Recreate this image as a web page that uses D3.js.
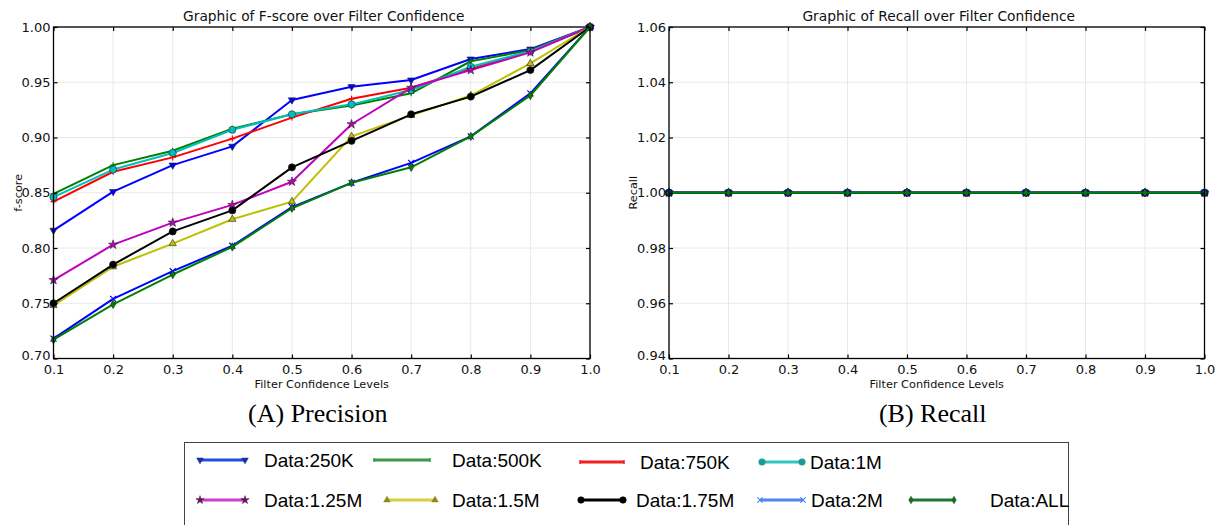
<!DOCTYPE html>
<html><head><meta charset="utf-8">
<script src="https://cdn.jsdelivr.net/npm/d3@7"></script>
<style>
html,body{margin:0;padding:0;background:#fff;}
svg{display:block;}
</style></head>
<body><svg id="c" width="1222" height="525"></svg>
<script>
// ---------- data ----------
const levels = [0.1,0.2,0.3,0.4,0.5,0.6,0.7,0.8,0.9,1.0];
const seriesNames = ["Data:250K","Data:500K","Data:750K","Data:1M","Data:1.25M","Data:1.5M","Data:1.75M","Data:2M","Data:ALL"];
const fs250K = [0.816,0.851,0.875,0.892,0.934,0.946,0.952,0.971,0.980,1.000];
const fs500K = [0.849,0.875,0.888,0.908,0.921,0.929,0.940,0.969,0.979,1.000];
const fs750K = [0.842,0.869,0.882,0.899,0.918,0.935,0.945,0.962,0.978,1.000];
const fs1M   = [0.846,0.871,0.886,0.907,0.921,0.930,0.943,0.964,0.978,1.000];
const fs125M = [0.771,0.803,0.823,0.839,0.860,0.912,0.945,0.961,0.977,1.000];
const fs15M  = [0.748,0.783,0.804,0.826,0.842,0.901,0.920,0.938,0.967,1.000];
const fs175M = [0.750,0.785,0.815,0.834,0.873,0.897,0.921,0.937,0.961,1.000];
const fs2M   = [0.718,0.754,0.779,0.802,0.837,0.859,0.877,0.901,0.940,1.000];
const fsALL  = [0.717,0.749,0.776,0.801,0.836,0.859,0.873,0.901,0.938,1.000];
const rc250K = [1.0,1.0,1.0,1.0,1.0,1.0,1.0,1.0,1.0,1.0];
const rc500K = [1.0,1.0,1.0,1.0,1.0,1.0,1.0,1.0,1.0,1.0];
const rc750K = [1.0,1.0,1.0,1.0,1.0,1.0,1.0,1.0,1.0,1.0];
const rc1M   = [1.0,1.0,1.0,1.0,1.0,1.0,1.0,1.0,1.0,1.0];
const rc125M = [1.0,1.0,1.0,1.0,1.0,1.0,1.0,1.0,1.0,1.0];
const rc15M  = [1.0,1.0,1.0,1.0,1.0,1.0,1.0,1.0,1.0,1.0];
const rc175M = [1.0,1.0,1.0,1.0,1.0,1.0,1.0,1.0,1.0,1.0];
const rc2M   = [1.0,1.0,1.0,1.0,1.0,1.0,1.0,1.0,1.0,1.0];
const rcALL  = [1.0,1.0,1.0,1.0,1.0,1.0,1.0,1.0,1.0,1.0];
const fTicks = [0.70,0.75,0.80,0.85,0.90,0.95,1.00];
const rTicks = [0.94,0.96,0.98,1.00,1.02,1.04,1.06];
const xTicks = [0.1,0.2,0.3,0.4,0.5,0.6,0.7,0.8,0.9,1.0];

// ---------- styles ----------
const lineColors  = ["#0000ff","#008000","#ff0000","#00bfbf","#bf00bf","#bfbf00","#000000","#0000ff","#008000"];
const markerFill  = ["#0000ff","#008000","#ff0000","#00bfbf","#bf00bf","#bfbf00","#000000","#0000ff","#008000"];
const markerKind  = ["tridown","plus","plus","circle","star","triup","circle","x","diamond"];
const legColors   = ["#1f4fd8","#3a9a4a","#ee2020","#30c4c4","#cc3fcc","#d6d040","#000000","#4f86f0","#1b7a30"];
const legMarkFill = ["#1a2f9a","#3a9a4a","#ee2020","#1a9a9a","#5a1a5a","#8a8a20","#000000","#4f86f0","#1b6a2a"];

const fsData = [fs250K,fs500K,fs750K,fs1M,fs125M,fs15M,fs175M,fs2M,fsALL];
const rcData = [rc250K,rc500K,rc750K,rc1M,rc125M,rc15M,rc175M,rc2M,rcALL];

const svg = d3.select("#c");
const sans = "DejaVu Sans, sans-serif";

function marker(g, kind, cx, cy, fill, s, edge){
  s = s || 1;
  edge = edge || "#222";
  if (kind==="circle"){
    g.append("circle").attr("cx",cx).attr("cy",cy).attr("r",3.6*s).attr("fill",fill).attr("stroke",edge).attr("stroke-width",0.6);
  } else if (kind==="tridown" || kind==="triup"){
    const r=4.2*s;
    g.append("path").attr("d",d3.symbol(d3.symbolTriangle, r*r*1.3)()).attr("fill",fill).attr("stroke",edge).attr("stroke-width",0.6)
      .attr("transform",`translate(${cx},${cy})${kind==="tridown"?" rotate(180)":""}`);
  } else if (kind==="star"){
    g.append("path").attr("d",d3.symbol(d3.symbolStar, 26*s*s)()).attr("fill",fill).attr("stroke",edge).attr("stroke-width",0.6)
      .attr("transform",`translate(${cx},${cy})`);
  } else if (kind==="diamond"){
    const r=4.2*s;
    g.append("path").attr("d",`M0,${-r}L${r*0.6},0L0,${r}L${-r*0.6},0Z`).attr("fill",fill).attr("stroke",edge).attr("stroke-width",0.6)
      .attr("transform",`translate(${cx},${cy})`);
  } else if (kind==="plus"){
    const r=3*s;
    g.append("path").attr("d",`M${-r},0H${r}M0,${-r}V${r}`).attr("stroke",fill).attr("stroke-width",1.2).attr("fill","none")
      .attr("transform",`translate(${cx},${cy})`);
  } else if (kind==="x"){
    const r=3*s;
    g.append("path").attr("d",`M${-r},${-r}L${r},${r}M${-r},${r}L${r},${-r}`).attr("stroke",fill).attr("stroke-width",1.2).attr("fill","none")
      .attr("transform",`translate(${cx},${cy})`);
  }
}

function panel(opts){
  const {x0,x1,y0,y1,yDomain,yTicks,yFmt,title,ylabel,data,caption} = opts;
  const x = d3.scaleLinear().domain([0.1,1.0]).range([x0,x1]);
  const y = d3.scaleLinear().domain(yDomain).range([y1,y0]);
  const g = svg.append("g");

  // grid
  g.append("g").selectAll("line").data(xTicks).join("line")
    .attr("x1",d=>x(d)).attr("x2",d=>x(d)).attr("y1",y0).attr("y2",y1)
    .attr("stroke","#e8e8e8").attr("stroke-width",1);
  g.append("g").selectAll("line").data(yTicks).join("line")
    .attr("x1",x0).attr("x2",x1).attr("y1",d=>y(d)).attr("y2",d=>y(d))
    .attr("stroke","#e8e8e8").attr("stroke-width",1);

  // series
  const line = d3.line().x((d,i)=>x(levels[i])).y(d=>y(d));
  data.forEach((arr,k)=>{
    g.append("path").datum(arr).attr("d",line).attr("fill","none")
      .attr("stroke",lineColors[k]).attr("stroke-width",2).attr("stroke-linejoin","round");
    arr.forEach((v,i)=>marker(g, markerKind[k], x(levels[i]), y(v), markerFill[k], 1));
  });

  // axes
  const ax = (gen, tr, labels) => {
    const a = g.append("g").attr("transform",tr).call(gen);
    a.select(".domain").remove();
    a.selectAll(".tick line").attr("stroke","#000").attr("stroke-width",1.2);
    a.selectAll(".tick text").attr("font-family",sans).attr("font-size",13).attr("fill","#111");
    if(!labels) a.selectAll(".tick text").remove();
    return a;
  };
  ax(d3.axisBottom(x).tickValues(xTicks).tickSizeInner(-4).tickSizeOuter(0).tickPadding(6).tickFormat(d3.format(".1f")), `translate(0,${y1})`, true);
  ax(d3.axisTop(x).tickValues(xTicks).tickSizeInner(-4).tickSizeOuter(0), `translate(0,${y0})`, false);
  const ya = ax(d3.axisLeft(y).tickValues(yTicks).tickSizeInner(-4).tickSizeOuter(0).tickPadding(3).tickFormat(d3.format(yFmt)), `translate(${x0},0)`, true);
  ya.selectAll(".tick text").filter(d=>d===yDomain[0]).attr("dy","0.1em");
  ax(d3.axisRight(y).tickValues(yTicks).tickSizeInner(-4).tickSizeOuter(0), `translate(${x1},0)`, false);

  g.append("rect").attr("x",x0).attr("y",y0).attr("width",x1-x0).attr("height",y1-y0)
    .attr("fill","none").attr("stroke","#000").attr("stroke-width",1.3);

  const cx=(x0+x1)/2;
  g.append("text").attr("x",cx+2).attr("y",y0-6).attr("text-anchor","middle")
    .attr("font-family",sans).attr("font-size",13.8).attr("fill","#111").text(title);
  g.append("text").attr("x",cx).attr("y",y1+29).attr("text-anchor","middle")
    .attr("font-family",sans).attr("font-size",11.3).attr("fill","#111").text("Filter Confidence Levels");
  g.append("text").attr("transform",`translate(${x0-32},${(y0+y1)/2}) rotate(-90)`).attr("text-anchor","middle")
    .attr("font-family",sans).attr("font-size",11.3).attr("fill","#111").text(ylabel);
  g.append("text").attr("x",cx-4).attr("y",y1+63).attr("text-anchor","middle")
    .attr("font-family","Liberation Serif, Times New Roman, serif").attr("font-size",26).attr("fill","#000").text(caption);
}

panel({x0:53.5,x1:590,y0:27,y1:358.5,yDomain:[0.70,1.00],yTicks:fTicks,yFmt:".2f",
  title:"Graphic of F-score over Filter Confidence",ylabel:"f-score",data:fsData,caption:"(A) Precision"});
panel({x0:669,x1:1204.5,y0:27,y1:358.5,yDomain:[0.94,1.06],yTicks:rTicks,yFmt:".2f",
  title:"Graphic of Recall over Filter Confidence",ylabel:"Recall",data:rcData,caption:"(B) Recall"});

// ---------- legend ----------
const leg = svg.append("g");
leg.append("rect").attr("x",184.5).attr("y",442.5).attr("width",884).attr("height",100)
  .attr("fill","#fff").attr("stroke","#444").attr("stroke-width",1);
const legPos = [
  {lx1:200,lx2:245,tx:264,y:460},
  {lx1:374,lx2:430,tx:452,y:460},
  {lx1:580,lx2:624,tx:640,y:462},
  {lx1:762,lx2:802,tx:810,y:462},
  {lx1:200,lx2:245,tx:264,y:500},
  {lx1:387,lx2:435,tx:452,y:500},
  {lx1:581,lx2:623,tx:636,y:500},
  {lx1:760,lx2:803,tx:811,y:500},
  {lx1:911,lx2:954,tx:990,y:500}
];
seriesNames.forEach((name,k)=>{
  const p = legPos[k];
  leg.append("line").attr("x1",p.lx1).attr("x2",p.lx2).attr("y1",p.y).attr("y2",p.y)
    .attr("stroke",legColors[k]).attr("stroke-width",3);
  const kind = markerKind[k];
  if (kind!=="plus"){
    marker(leg, kind, p.lx1, p.y, legMarkFill[k], 0.9, legMarkFill[k]);
    marker(leg, kind, p.lx2, p.y, legMarkFill[k], 0.9, legMarkFill[k]);
  } else {
    leg.append("line").attr("x1",p.lx1).attr("x2",p.lx1).attr("y1",p.y-2).attr("y2",p.y+2).attr("stroke",legColors[k]).attr("stroke-width",1.5);
    leg.append("line").attr("x1",p.lx2).attr("x2",p.lx2).attr("y1",p.y-2).attr("y2",p.y+2).attr("stroke",legColors[k]).attr("stroke-width",1.5);
  }
  leg.append("text").attr("x",p.tx).attr("y",p.y+7).attr("font-family","Liberation Sans, Arial, sans-serif")
    .attr("font-size",19).attr("fill","#000").text(name);
});
</script>
</body></html>
